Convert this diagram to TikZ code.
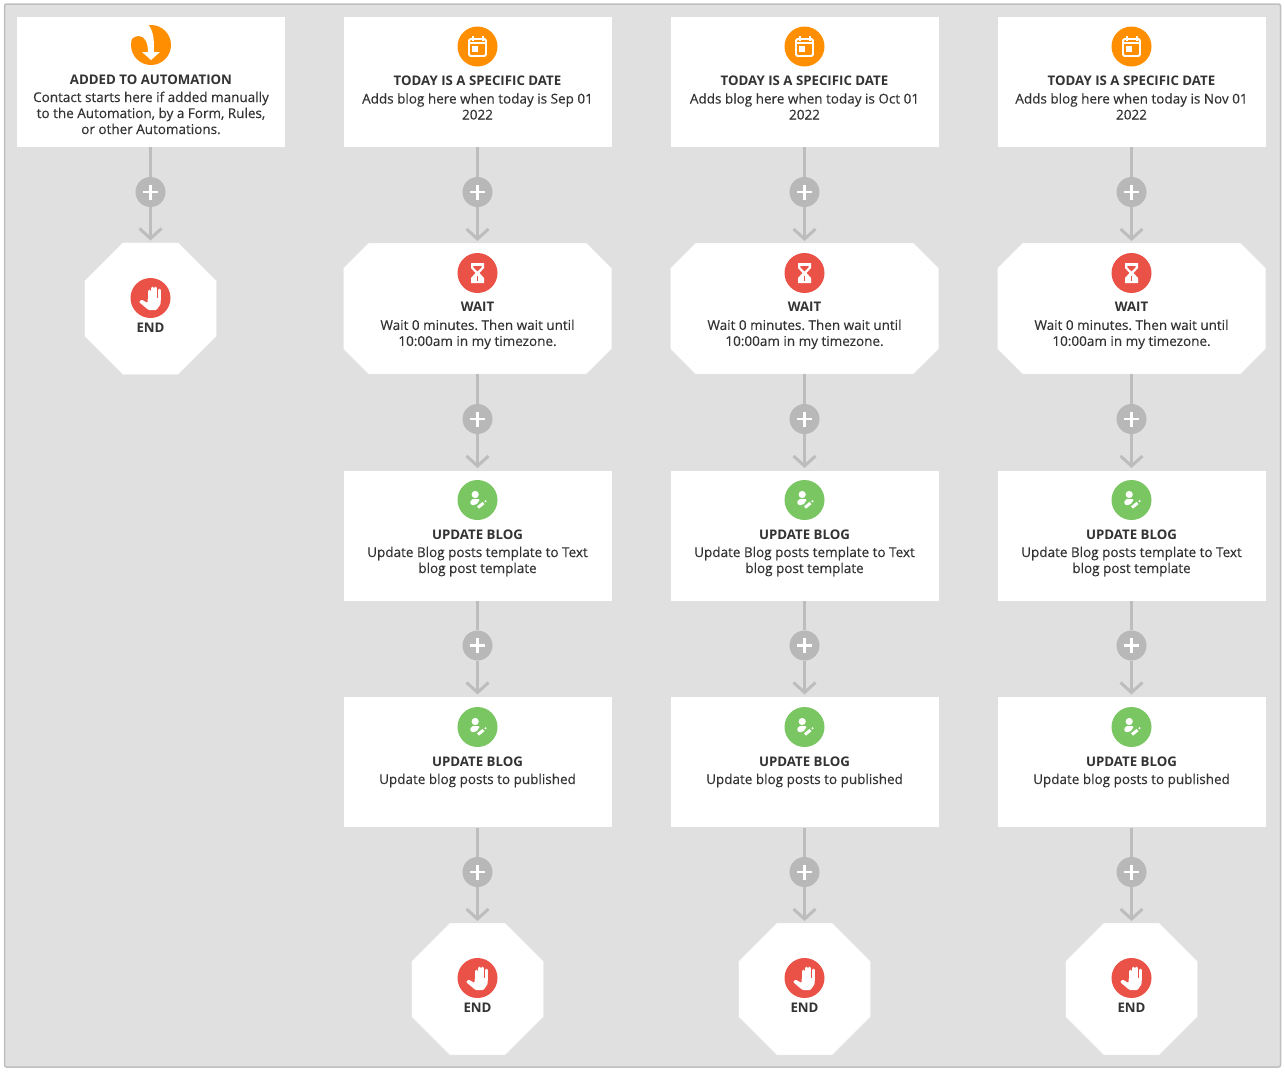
\documentclass[tikz,border=0pt]{standalone}
\usepackage{fontspec}
\setmainfont{Open Sans}
\newfontfamily\stepface[FakeBold=0.25]{Open Sans}
\newcommand{\stepfont}{\stepface\fontsize{13.5}{16}\selectfont}
\usepackage{xcolor}
\usetikzlibrary{positioning,arrows.meta}

\definecolor{panelgray}{HTML}{E0E0E0}
\definecolor{panelline}{HTML}{BEBEBE}
\definecolor{linkgray}{HTML}{BDBDBD}
\definecolor{plusgray}{HTML}{B8B8B8}
\definecolor{inkgray}{HTML}{333333}
\definecolor{startorange}{HTML}{FF8F00}
\definecolor{stopred}{HTML}{EB5247}
\definecolor{blogreen}{HTML}{7AC663}

\tikzset{
	stepbox/.style={draw=black!12, fill=white, inner sep=0pt, outer sep=0pt, minimum width=268.5pt, minimum height=131pt},
	cutframe/.style={inner sep=0pt, outer sep=0pt, minimum width=268.5pt, minimum height=131pt},
	endframe/.style={cutframe, minimum width=132pt, minimum height=132pt},
	cutfill/.style={draw=black!12, fill=white},
	icon/.style={circle, inner sep=0pt, minimum size=40pt},
	steptext/.style={inner sep=0pt, align=center, text=inkgray, font=\fontsize{13.25}{16}\selectfont\frenchspacing},
	plusnode/.style={circle, fill=plusgray, inner sep=0pt, minimum size=30pt},
	link/.style={draw=linkgray, line width=3pt},
	into/.style={link, -{Straight Barb[length=10pt,width=22pt,line width=3pt]}, shorten >=2pt},
	plusglyph/.pic={\draw[white, line width=2.6pt] (-7.5,0) -- (7.5,0) (0,-7.5) -- (0,7.5);},
	calglyph/.pic={
		\draw[white, line width=1.8pt, rounded corners=1.5pt] (-8.5,-7.5) rectangle (8.5,9.5);
		\draw[white, line width=2pt] (-5,-10.5) -- (-5,-6) (5,-10.5) -- (5,-6) (-8.5,-3.5) -- (8.5,-3.5);
		\fill[white] (-5.5,-0.5) rectangle (0.5,5);},
	sandglyph/.pic={
		\fill[white, even odd rule] (-6.5,-10) -- (6.5,-10) -- (6.5,-5) -- (2,0) -- (6.5,5) -- (6.5,10) -- (-6.5,10) -- (-6.5,5) -- (-2,0) -- (-6.5,-5) -- cycle
			(-4.2,-7.2) -- (4.2,-7.2) -- (4.2,-5.5) -- (0,-1.5) -- (-4.2,-5.5) -- cycle;
		\draw[stopred, line width=.7pt] (0,3) -- (0,8);},
	blogglyph/.pic={
		\fill[white] (-2.3,-5.5) circle (3.6pt);
		\fill[white, rounded corners=2pt] (-7.5,4.5) -- (-6.5,-1) -- (2.5,-1) -- (1,2) -- (-2,5.5) -- cycle;
		\draw[white, line width=3pt] (0.5,7.5) -- (6,3);
		\fill[white] (8,1.2) circle (1.2pt);},
	handglyph/.pic={
		\draw[white, line width=3pt, line cap=round] (-1.5,-7) -- (-1.5,2) (2,-10) -- (2,2) (5.4,-10) -- (5.4,2) (8.7,-8) -- (8.7,2);
		\fill[white, rounded corners=1pt] (-3,0) -- (10.2,0) -- (10.2,6) -- (6,12) -- (-2,12) -- (-11.5,4) -- (-9,1.5) -- (-3,5) -- cycle;},
	swirlglyph/.pic={
		\fill[white] (-22,-21) -- (-3,-21) .. controls (3,-13) and (3,-5) .. (3,7) -- (9,7) -- (0,15) -- (-9,7) -- (-3,7) .. controls (-3,-2) and (-6,-9) .. (-12,-9) .. controls (-16,-9) and (-19,-7) .. (-21,-4) -- cycle;},
}
% outline of a frame node with its four corners cut off
\newcommand{\cutcorners}[2]{\draw[cutfill] ([xshift=#2pt]#1.north west) -- ([xshift=-#2pt]#1.north east) -- ([yshift=-#2pt]#1.north east) -- ([yshift=#2pt]#1.south east) -- ([xshift=-#2pt]#1.south east) -- ([xshift=#2pt]#1.south west) -- ([yshift=#2pt]#1.south west) -- ([yshift=-#2pt]#1.north west) -- cycle;}

\begin{document}
\begin{tikzpicture}[x=1pt, y=-1pt]
	\useasboundingbox (0,0) rectangle (1285,1072);
	\draw[fill=panelgray, draw=panelline, line width=1.5pt, rounded corners=2pt] (4.5,4) rectangle (1280.5,1067);

	% start column
	\node[stepbox] (start) at (150.5,81.5) {};
	\node[icon, fill=startorange] (starticon) at (151,45) {};
	\pic at (starticon) {swirlglyph};
	\node[steptext, below=9pt of starticon.south] (starttext) {\textbf{ADDED TO AUTOMATION}\\[2pt]\stepfont Contact starts here if added manually\\\stepfont to the Automation, by a Form, Rules,\\\stepfont or other Automations.};
	\node[plusnode] (startplus) at (150.5,192) {};
	\pic at (startplus) {plusglyph};
	\node[endframe] (startend) at (150.5,308.5) {};
	\cutcorners{startend}{38}
	\node[icon, fill=stopred] (startendicon) at (150.5,298) {};
	\pic at (startendicon) {handglyph};
	\node[steptext, below=5pt of startendicon.south] (startendtext) {\textbf{END}};
	\draw[link] (start) -- (startplus);
	\draw[into] (startplus) -- (startend);

	% the three date columns
	\foreach \cx/\mon in {477.5/Sep, 804.5/Oct, 1131.5/Nov} {
		\node[stepbox] (date) at (\cx,81.5) {};
		\node[cutframe] (wait) at (\cx,308.5) {};
		\cutcorners{wait}{25}
		\node[stepbox] (blogtext) at (\cx,535.5) {};
		\node[stepbox] (blogpub) at (\cx,762) {};
		\node[endframe] (done) at (\cx,989) {};
		\cutcorners{done}{38}

		\node[icon, fill=startorange] (dateicon) at (\cx,46.5) {};
		\pic at (dateicon) {calglyph};
		\node[steptext, below=9pt of dateicon.south] {\textbf{TODAY IS A SPECIFIC DATE}\\[2pt]\stepfont Adds blog here when today is \mon{} 01\\\stepfont 2022};

		\node[icon, fill=stopred] (waiticon) at (\cx,273) {};
		\pic at (waiticon) {sandglyph};
		\node[steptext, below=9pt of waiticon.south] {\textbf{WAIT}\\[2pt]\stepfont Wait 0 minutes. Then wait until\\\stepfont 10:00am in my timezone.};

		\node[icon, fill=blogreen] (blogtexticon) at (\cx,500) {};
		\pic at (blogtexticon) {blogglyph};
		\node[steptext, below=9pt of blogtexticon.south] {\textbf{UPDATE BLOG}\\[2pt]\stepfont Update Blog posts template to Text\\\stepfont blog post template};

		\node[icon, fill=blogreen] (blogpubicon) at (\cx,727) {};
		\pic at (blogpubicon) {blogglyph};
		\node[steptext, below=9pt of blogpubicon.south] {\textbf{UPDATE BLOG}\\[2pt]\stepfont Update blog posts to published};

		\node[icon, fill=stopred] (doneicon) at (\cx,978) {};
		\pic at (doneicon) {handglyph};
		\node[steptext, below=5pt of doneicon.south] {\textbf{END}};

		\node[plusnode] (plusa) at (\cx,192) {};
		\node[plusnode] (plusb) at (\cx,419) {};
		\node[plusnode] (plusc) at (\cx,645.5) {};
		\node[plusnode] (plusd) at (\cx,872) {};
		\foreach \p in {plusa,plusb,plusc,plusd} \pic at (\p) {plusglyph};

		\draw[link] (date) -- (plusa);
		\draw[into] (plusa) -- (wait);
		\draw[link] (wait) -- (plusb);
		\draw[into] (plusb) -- (blogtext);
		\draw[link] (blogtext) -- (plusc);
		\draw[into] (plusc) -- (blogpub);
		\draw[link] (blogpub) -- (plusd);
		\draw[into] (plusd) -- (done);
	}
\end{tikzpicture}
\end{document}
